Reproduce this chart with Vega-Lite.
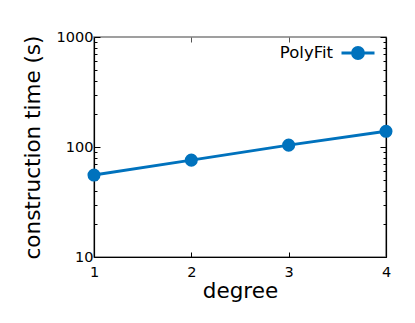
{
  "$schema": "https://vega.github.io/schema/vega-lite/v6.json",
  "width": 292,
  "height": 220,
  "autosize": {"type": "none"},
  "padding": {"left": 94, "top": 37, "right": 29, "bottom": 66},
  "background": "white",
  "config": {
    "font": "DejaVu Sans",
    "view": {"stroke": "#808080", "strokeWidth": 1.5},
    "axis": {"grid": false, "zindex": 1, "domainColor": "black", "tickColor": "black", "labelColor": "black", "titleColor": "black", "domainWidth": 1.2, "tickWidth": 1}
  },
  "data": {
    "values": [
      {"degree": 1, "time": 55.6, "series": "PolyFit"},
      {"degree": 2, "time": 76, "series": "PolyFit"},
      {"degree": 3, "time": 104, "series": "PolyFit"},
      {"degree": 4, "time": 139, "series": "PolyFit"}
    ]
  },
  "layer": [
    {
      "mark": {"type": "line", "strokeWidth": 3, "clip": false},
      "encoding": {
        "x": {"field": "degree", "type": "quantitative", "scale": {"domain": [1, 4], "nice": false, "zero": false},
          "axis": {"orient": "bottom", "values": [1, 2, 3, 4], "format": "d", "tickSize": -5, "labelFontSize": 14.5, "labelPadding": 13, "title": "degree", "titleFontSize": 21.5, "titleFontWeight": "normal", "titlePadding": 2, "labelFlush": false}},
        "y": {"field": "time", "type": "quantitative", "scale": {"type": "log", "domain": [10, 1000], "nice": false},
          "axis": {"orient": "left", "values": [10, 20, 30, 40, 50, 60, 70, 80, 90, 100, 200, 300, 400, 500, 600, 700, 800, 900, 1000],
            "labelExpr": "datum.value == 10 || datum.value == 100 || datum.value == 1000 ? datum.value : ''",
            "tickSize": {"condition": {"test": "datum.value == 10 || datum.value == 100 || datum.value == 1000", "value": -6}, "value": -3},
            "labelFontSize": 14.5, "labelPadding": 7, "labelFlush": false,
            "title": "construction time (s)", "titleFontSize": 21.5, "titleFontWeight": "normal", "titlePadding": 12}},
        "color": {"field": "series", "type": "nominal", "scale": {"range": ["#0072BD"]},
          "legend": {"orient": "none", "legendX": 246, "legendY": -2, "title": null, "labelFontSize": 16.5, "labelColor": "black", "labelAlign": "right", "labelOffset": -43,
            "symbolType": "M-1,0L1,0M0.33,0A0.33,0.33,0,1,1,-0.33,0A0.33,0.33,0,1,1,0.33,0Z",
            "symbolSize": 1089, "symbolStrokeWidth": 3, "symbolFillColor": "#0072BD", "symbolStrokeColor": "#0072BD"}}
      }
    },
    {
      "mark": {"type": "point", "filled": true, "size": 170, "opacity": 1, "clip": false},
      "encoding": {
        "x": {"field": "degree", "type": "quantitative",
          "axis": {"orient": "top", "values": [2, 3], "labels": false, "domain": false, "tickSize": -5, "title": null, "tickColor": "#555555"}},
        "y": {"field": "time", "type": "quantitative",
          "axis": {"orient": "right", "values": [10, 20, 30, 40, 50, 60, 70, 80, 90, 100, 200, 300, 400, 500, 600, 700, 800, 900, 1000], "labels": false, "title": null,
            "tickSize": {"condition": {"test": "datum.value == 10 || datum.value == 100 || datum.value == 1000", "value": -6}, "value": -3}}},
        "color": {"field": "series", "type": "nominal"}
      }
    }
  ],
  "resolve": {"axis": {"x": "independent", "y": "independent"}}
}
